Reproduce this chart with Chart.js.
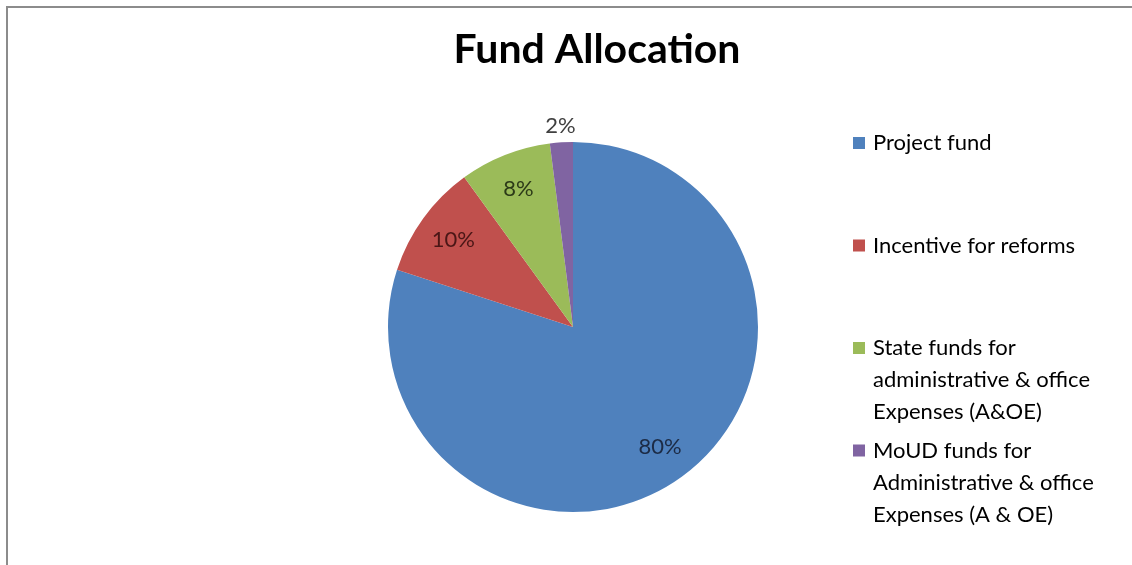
<html>
<head>
<meta http-equiv="Content-Type" content="text/html; charset=UTF-8">
<title>Fund Allocation</title>
<script src="https://cdn.jsdelivr.net/npm/chart.js@4.4.0/dist/chart.umd.min.js"></script>
<style>
  body { margin: 0; background: #fff; }
</style>
</head>
<body>
<canvas id="chart1" width="1132" height="565"></canvas>

<script>
// data
var categories = [
    "Project fund",
    "Incentive for reforms",
    "State funds for administrative & office Expenses (A&OE)",
    "MoUD funds for Administrative & office Expenses (A & OE)"
];
var shares = [80, 10, 8, 2];
var shareLabels = ["80%", "10%", "8%", "2%"];
var legendLines = [
    ["Project fund"],
    ["Incentive for reforms"],
    ["State funds for", "administrative & office", "Expenses (A&OE)"],
    ["MoUD funds for", "Administrative & office", "Expenses (A & OE)"]
];
var chartTitle = "Fund Allocation";

var sliceColors = ["#4F81BD", "#C0504D", "#9BBB59", "#8064A2"];
var labelColors = ["#1c2b45", "#4a1616", "#2c3a18", "#404040"];
var FONT = "Lato, 'Open Sans', sans-serif";

// frame, title, slice labels and legend drawn on the canvas
var decorations = {
    id: "decorations",
    beforeDraw: function (chart) {
        var c = chart.ctx;
        c.save();
        c.strokeStyle = "#8c8c8c";
        c.lineWidth = 2;
        c.beginPath();
        c.moveTo(7, 565);
        c.lineTo(7, 7);
        c.lineTo(1132, 7);
        c.stroke();
        c.restore();
    },
    afterDatasetsDraw: function (chart) {
        var c = chart.ctx;
        var meta = chart.getDatasetMeta(0);
        c.save();
        c.textAlign = "center";
        c.textBaseline = "middle";
        c.font = "22px " + FONT;
        meta.data.forEach(function (arc, i) {
            var p = arc.getProps(["x", "y", "startAngle", "endAngle", "outerRadius"], true);
            var mid = (p.startAngle + p.endAngle) / 2;
            var k = shares[i] < 5 ? 1.09 : 0.8;
            c.fillStyle = labelColors[i];
            c.fillText(shareLabels[i], p.x + Math.cos(mid) * p.outerRadius * k, p.y + Math.sin(mid) * p.outerRadius * k);
        });

        // title
        c.fillStyle = "#000";
        c.font = "bold 41px " + FONT;
        c.fillText(chartTitle, 597, 50);

        // legend
        c.textAlign = "left";
        c.font = "22px " + FONT;
        var y = 143;
        legendLines.forEach(function (lines, i) {
            c.fillStyle = sliceColors[i];
            c.fillRect(853, y - 6, 12, 12);
            c.fillStyle = "#000";
            lines.forEach(function (t, j) {
                c.fillText(t, 873, y + j * 32);
            });
            y += 102.5;
        });
        c.restore();
    }
};

var ctx1 = document.getElementById("chart1");
var pie = new Chart(ctx1, {
    type: "pie",
    data: {
        labels: categories,
        datasets: [{
            data: shares,
            backgroundColor: sliceColors,
            borderWidth: 0
        }]
    },
    options: {
        responsive: false,
        animation: false,
        events: [],
        layout: { padding: { left: 388, right: 374, top: 142, bottom: 53 } },
        plugins: {
            legend: { display: false },
            title: { display: false },
            tooltip: { enabled: false }
        }
    },
    plugins: [decorations]
});
</script>
</body>
</html>
